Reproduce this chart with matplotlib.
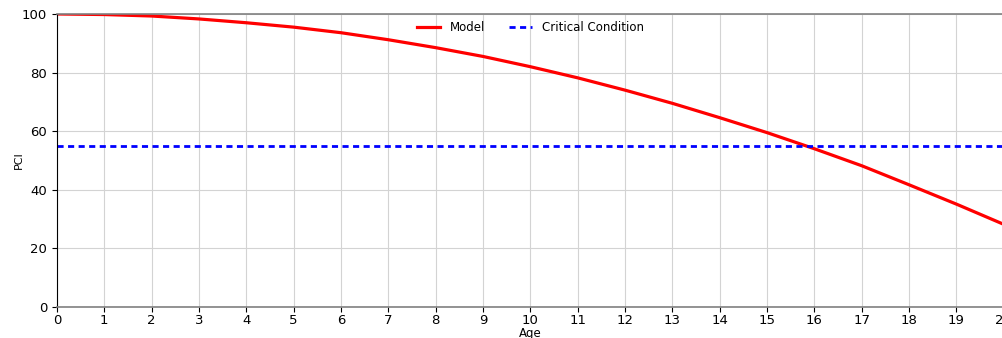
"""PCI deterioration model vs. critical condition threshold."""

import matplotlib

matplotlib.use("Agg")

import matplotlib.pyplot as plt
import numpy as np

ages = [0, 1, 2, 3, 4, 5, 6, 7, 8, 9, 10, 11, 12, 13, 14, 15, 16, 17, 18, 19, 20]
pci_model = [100.0, 99.8, 99.3, 98.3, 97.0, 95.5, 93.6, 91.2, 88.5, 85.5, 82.0,
             78.2, 74.0, 69.5, 64.6, 59.5, 54.0, 48.2, 41.7, 35.1, 28.2]
critical_pci = 55
x_ticks = list(range(0, 21))
y_ticks = [0, 20, 40, 60, 80, 100]


def main() -> None:
    fig = plt.figure(figsize=(10.03, 3.38), dpi=100)
    ax = fig.add_axes([0.0568, 0.0917, 0.944, 0.867])

    ax.plot(ages, pci_model, color="red", linewidth=2.3, label="Model")
    ax.axhline(critical_pci, color="blue", linewidth=2.0, linestyle=(0, (2.2, 1.6)),
               label="Critical Condition")

    ax.set_xlim(0, 20)
    ax.set_ylim(0, 100)
    ax.set_xticks(x_ticks)
    ax.set_yticks(y_ticks)
    ax.tick_params(labelsize=9.5, length=3.5)
    ax.tick_params(axis="x", pad=1.5)
    ax.grid(True, color="#d3d3d3", linewidth=0.8)
    ax.set_axisbelow(True)

    for side in ("top", "bottom", "right"):
        ax.spines[side].set_color("#808080")
        ax.spines[side].set_linewidth(1.2)
    ax.spines["left"].set_color("black")

    ax.set_xlabel("Age", fontsize=8.5, labelpad=0)
    ax.set_ylabel("PCI", fontsize=8, labelpad=-1)
    ax.legend(loc="upper center", ncol=2, frameon=False, fontsize=8.5,
              columnspacing=2.0, handlelength=2.0, borderaxespad=0.2)

    fig.savefig("out.png", dpi=100)
    plt.close(fig)


if __name__ == "__main__":
    main()
